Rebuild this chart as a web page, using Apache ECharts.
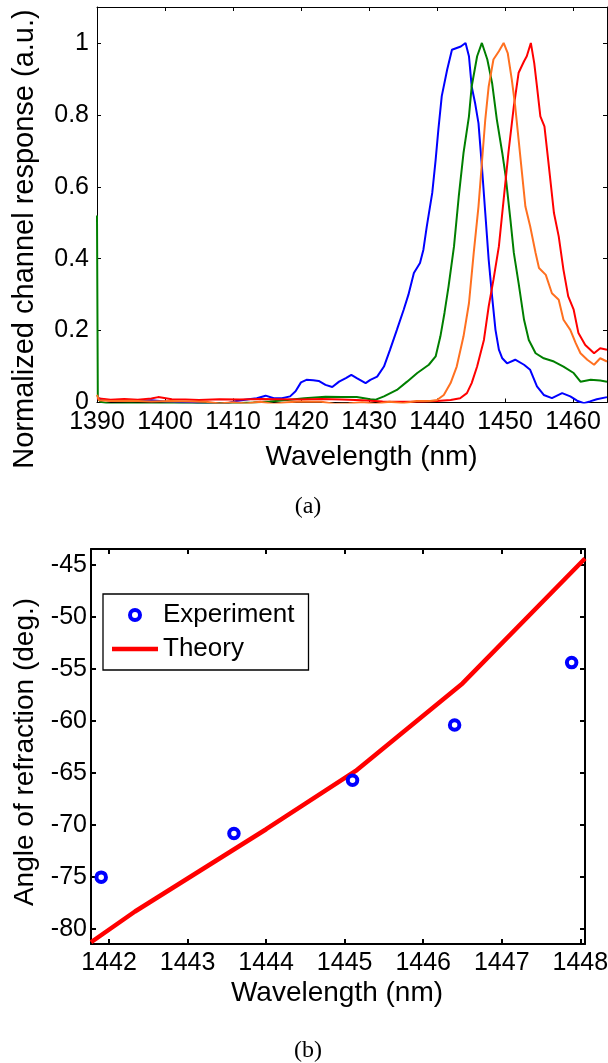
<!DOCTYPE html>
<html>
<head>
<meta charset="utf-8">
<script src="https://cdn.jsdelivr.net/npm/echarts@6/dist/echarts.min.js"></script>
<style>html,body{margin:0;padding:0;background:#fff;}#c{width:608px;height:1063px;}</style>
</head>
<body>
<div id="c"></div>
<script>
// ---- Panel (a): normalized channel responses [wavelength nm, value] ----
const blueCh = [[1390.0,0.012],[1391.5,0.006],[1393.8,0.007],[1396,0.004],[1398,0.006],[1400,0.003],[1402,0.001],[1404,0.000],[1406.1,-0.004],[1408,-0.002],[1409.2,-0.002],[1410.5,0.004],[1412.3,0.009],[1413.5,0.012],[1414.8,0.019],[1416,0.012],[1417.2,0.012],[1418.4,0.017],[1419.2,0.031],[1420,0.056],[1420.8,0.063],[1421.8,0.062],[1422.6,0.060],[1423.6,0.049],[1424.6,0.043],[1425.6,0.058],[1426.6,0.068],[1427.4,0.077],[1428.2,0.068],[1429.5,0.054],[1430.2,0.063],[1431.2,0.072],[1432.2,0.1],[1433.1,0.147],[1434.1,0.202],[1435.1,0.258],[1435.8,0.3],[1436.6,0.36],[1437.5,0.388],[1438,0.425],[1438.5,0.49],[1439.3,0.583],[1439.8,0.675],[1440.2,0.759],[1440.7,0.852],[1441.5,0.926],[1442.2,0.981],[1442.9,0.986],[1443.5,0.99],[1444.2,1.0],[1444.7,0.963],[1445.1,0.879],[1445.6,0.833],[1446.1,0.777],[1446.6,0.657],[1447.1,0.527],[1447.6,0.397],[1448.1,0.295],[1448.6,0.202],[1449.1,0.147],[1449.6,0.123],[1450.3,0.109],[1451.5,0.119],[1452.8,0.105],[1453.7,0.091],[1454.7,0.045],[1455.7,0.021],[1456.9,0.012],[1458.4,0.026],[1459.6,0.017],[1460.6,0.005],[1461.6,-0.002],[1462.5,0.003],[1463.5,0.009],[1465,0.015]];
const greenCh = [[1390,0.52],[1390.12,0.015],[1390.5,0.002],[1392,-0.004],[1395,-0.003],[1398,-0.004],[1401,-0.003],[1404,-0.004],[1407,-0.002],[1410,-0.002],[1413,0.0],[1415.4,0.003],[1418,0.007],[1420.5,0.012],[1423.6,0.016],[1426,0.015],[1428.2,0.015],[1430.2,0.009],[1431,0.008],[1432.2,0.017],[1434.1,0.035],[1435.6,0.058],[1437.1,0.082],[1438.8,0.105],[1439.8,0.128],[1440.5,0.184],[1441.1,0.249],[1441.7,0.323],[1442.5,0.434],[1443.2,0.573],[1443.9,0.694],[1444.7,0.796],[1445.1,0.879],[1445.9,0.963],[1446.6,1.0],[1447.4,0.954],[1448.1,0.889],[1448.8,0.787],[1449.6,0.694],[1450.1,0.629],[1450.8,0.508],[1451.3,0.416],[1452,0.332],[1452.8,0.23],[1453.5,0.174],[1454.5,0.137],[1455.7,0.123],[1457.2,0.114],[1458.6,0.1],[1460.1,0.082],[1461.1,0.058],[1462.6,0.063],[1464,0.061],[1465,0.058]];
const orangeCh = [[1390,0.021],[1390.3,0.006],[1392,0.004],[1395,0.005],[1398,0.003],[1401,0.004],[1404,0.003],[1406,0.002],[1408,-0.003],[1410,0.001],[1412,-0.003],[1414,0.002],[1416,-0.004],[1418,0.001],[1420,0.003],[1423,0.002],[1425,-0.004],[1427,-0.003],[1429,0.001],[1431,-0.004],[1433,0.002],[1435,-0.002],[1437,0.004],[1439,0.004],[1440,0.007],[1441,0.021],[1442,0.054],[1442.9,0.1],[1443.9,0.184],[1444.7,0.276],[1445.4,0.416],[1446.1,0.545],[1446.6,0.666],[1447.1,0.787],[1447.6,0.879],[1448.3,0.954],[1449.1,0.977],[1449.8,1.0],[1450.4,0.972],[1451,0.898],[1451.5,0.824],[1452,0.731],[1452.5,0.638],[1453,0.545],[1453.7,0.49],[1454.5,0.416],[1455,0.374],[1456,0.355],[1456.9,0.304],[1457.9,0.286],[1458.6,0.23],[1459.6,0.202],[1460.4,0.165],[1461.1,0.137],[1462.1,0.119],[1463.1,0.105],[1464,0.123],[1465,0.114]];
const redCh = [[1390,0.012],[1392,0.008],[1394,0.010],[1396,0.008],[1398,0.011],[1399,0.015],[1401,0.009],[1403,0.008],[1405,0.007],[1408,0.009],[1411,0.008],[1414,0.01],[1417,0.009],[1420,0.008],[1423,0.01],[1426,0.008],[1429,0.006],[1432,0.003],[1435,0.002],[1438,0.003],[1440,0.004],[1442,0.007],[1443.4,0.012],[1444.4,0.026],[1445.1,0.054],[1445.9,0.1],[1446.9,0.174],[1447.6,0.267],[1448.3,0.341],[1449.1,0.434],[1449.8,0.564],[1450.5,0.694],[1451.3,0.824],[1452,0.917],[1452.8,0.949],[1453.2,0.963],[1453.8,1.0],[1454.3,0.944],[1454.7,0.879],[1455.2,0.796],[1455.8,0.768],[1456.4,0.666],[1457.2,0.527],[1457.9,0.462],[1458.6,0.369],[1459.3,0.295],[1460.1,0.258],[1460.8,0.193],[1461.8,0.16],[1463.1,0.137],[1464,0.151],[1465,0.147]];
const topXTicks = [1390,1400,1410,1420,1430,1440,1450,1460];
const topYTicks = [0,0.2,0.4,0.6,0.8,1];

// ---- Panel (b): angle of refraction ----
const expWl = [1441.9,1443.59,1445.1,1446.4,1447.89];
const expAngle = [-75.0,-70.8,-65.7,-60.4,-54.4];
const theoryWl = [1441.77,1442.33,1444.0,1445.14,1446.5,1448.06];
const theoryAngle = [-81.25,-78.3,-70.4,-64.8,-56.4,-44.4];
const botXTicks = [1442,1443,1444,1445,1446,1447,1448];
const botYTicks = [-80,-75,-70,-65,-60,-55,-50,-45];

const FONT = '"Liberation Sans", Arial, sans-serif';
const SERIF = '"Liberation Serif", "Times New Roman", serif';
const zip = (a,b) => a.map((v,i)=>[v,b[i]]);

function axis(opt){
  const lw = opt.lw, tl = opt.tl;
  return {
    gridIndex: opt.grid, type:'value', min: opt.min, max: opt.max, position: opt.pos,
    axisLine:{show:true, onZero:false, lineStyle:{color:'#000', width:lw}},
    axisTick:{show:true, inside:true, length:tl, customValues: opt.ticks, lineStyle:{color:'#000', width:lw}},
    axisLabel:{show: !!opt.label, customValues: opt.ticks, margin: opt.margin||8, color:'#000',
      fontSize:25, fontFamily:FONT, formatter: v => String(v)},
    splitLine:{show:false}
  };
}

const chart = echarts.init(document.getElementById('c'), null, {renderer:'canvas'});
chart.setOption({
  backgroundColor:'#fff',
  animation:false,
  grid:[
    {left:97, top:7, width:510, height:395.5, outerBoundsMode:'none', containLabel:false},
    {left:91, top:549, width:494, height:395, outerBoundsMode:'none', containLabel:false}
  ],
  xAxis:[
    axis({grid:0,min:1390,max:1465,pos:'bottom',lw:1,tl:4,ticks:topXTicks,label:true,margin:7}),
    axis({grid:0,min:1390,max:1465,pos:'top',lw:1,tl:4,ticks:topXTicks,label:false}),
    axis({grid:1,min:1441.77,max:1448.06,pos:'bottom',lw:2,tl:5,ticks:botXTicks,label:true,margin:7}),
    axis({grid:1,min:1441.77,max:1448.06,pos:'top',lw:2,tl:5,ticks:botXTicks,label:false})
  ],
  yAxis:[
    axis({grid:0,min:0,max:1.1,pos:'left',lw:1,tl:4,ticks:topYTicks,label:true,margin:8}),
    axis({grid:0,min:0,max:1.1,pos:'right',lw:1,tl:4,ticks:topYTicks,label:false}),
    axis({grid:1,min:-81.42,max:-43.49,pos:'left',lw:2,tl:5,ticks:botYTicks,label:true,margin:4}),
    axis({grid:1,min:-81.42,max:-43.49,pos:'right',lw:2,tl:5,ticks:botYTicks,label:false})
  ],
  legend:{
    left:103, top:594, orient:'vertical',
    data:[
      {name:'Experiment', icon:'circle', itemStyle:{color:'#ffffff', borderColor:'#0000ff', borderWidth:4, opacity:1}},
      {name:'Theory', icon:'path://M0,0L46,0L46,4.5L0,4.5Z', itemStyle:{color:'#ff0000', borderWidth:0, opacity:1}}
    ],
    itemWidth:46, itemHeight:10, itemGap:8, padding:[8,14,8,9],
    borderColor:'#000', borderWidth:1.3, backgroundColor:'#fff', borderRadius:0,
    selectedMode:false,
    textStyle:{fontFamily:FONT, fontSize:26, color:'#000', lineHeight:26}
  },
  series:[
    {type:'line', xAxisIndex:0, yAxisIndex:0, data:blueCh, showSymbol:false, symbol:'none', lineStyle:{color:'#0000ff', width:2}, z:2},
    {type:'line', xAxisIndex:0, yAxisIndex:0, data:greenCh, showSymbol:false, symbol:'none', lineStyle:{color:'#007f00', width:2}, z:2},
    {type:'line', xAxisIndex:0, yAxisIndex:0, data:redCh, showSymbol:false, symbol:'none', lineStyle:{color:'#ff0000', width:2}, z:2},
    {type:'line', xAxisIndex:0, yAxisIndex:0, data:orangeCh, showSymbol:false, symbol:'none', lineStyle:{color:'#ff7020', width:2}, z:2},
    {name:'Experiment', type:'scatter', xAxisIndex:2, yAxisIndex:2, data: zip(expWl, expAngle),
      symbol:'circle', symbolSize:9.5, itemStyle:{color:'#ffffff', borderColor:'#0000ff', borderWidth:4, opacity:1}, z:3},
    {name:'Theory', type:'line', xAxisIndex:2, yAxisIndex:2, data: zip(theoryWl, theoryAngle),
      symbol:'none', showSymbol:false, lineStyle:{color:'#ff0000', width:4.5}, itemStyle:{color:'#ff0000'}, z:2}
  ],
  graphic:[
    {type:'text', x:25, y:239, rotation:Math.PI/2, style:{text:'Normalized channel response (a.u.)', fontSize:29, fontFamily:FONT, fill:'#000', textAlign:'center', textVerticalAlign:'middle'}},
    {type:'text', x:371.6, y:457, style:{text:'Wavelength (nm)', fontSize:28, fontFamily:FONT, fill:'#000', textAlign:'center', textVerticalAlign:'middle'}},
    {type:'text', x:308, y:507, style:{text:'(a)', fontSize:24, fontFamily:SERIF, fill:'#000', textAlign:'center', textVerticalAlign:'middle'}},
    {type:'text', x:25, y:752, rotation:Math.PI/2, style:{text:'Angle of refraction (deg.)', fontSize:28, fontFamily:FONT, fill:'#000', textAlign:'center', textVerticalAlign:'middle'}},
    {type:'text', x:337, y:993, style:{text:'Wavelength (nm)', fontSize:28, fontFamily:FONT, fill:'#000', textAlign:'center', textVerticalAlign:'middle'}},
    {type:'text', x:308, y:1051, style:{text:'(b)', fontSize:24, fontFamily:SERIF, fill:'#000', textAlign:'center', textVerticalAlign:'middle'}}
  ]
});
</script>
</body>
</html>
